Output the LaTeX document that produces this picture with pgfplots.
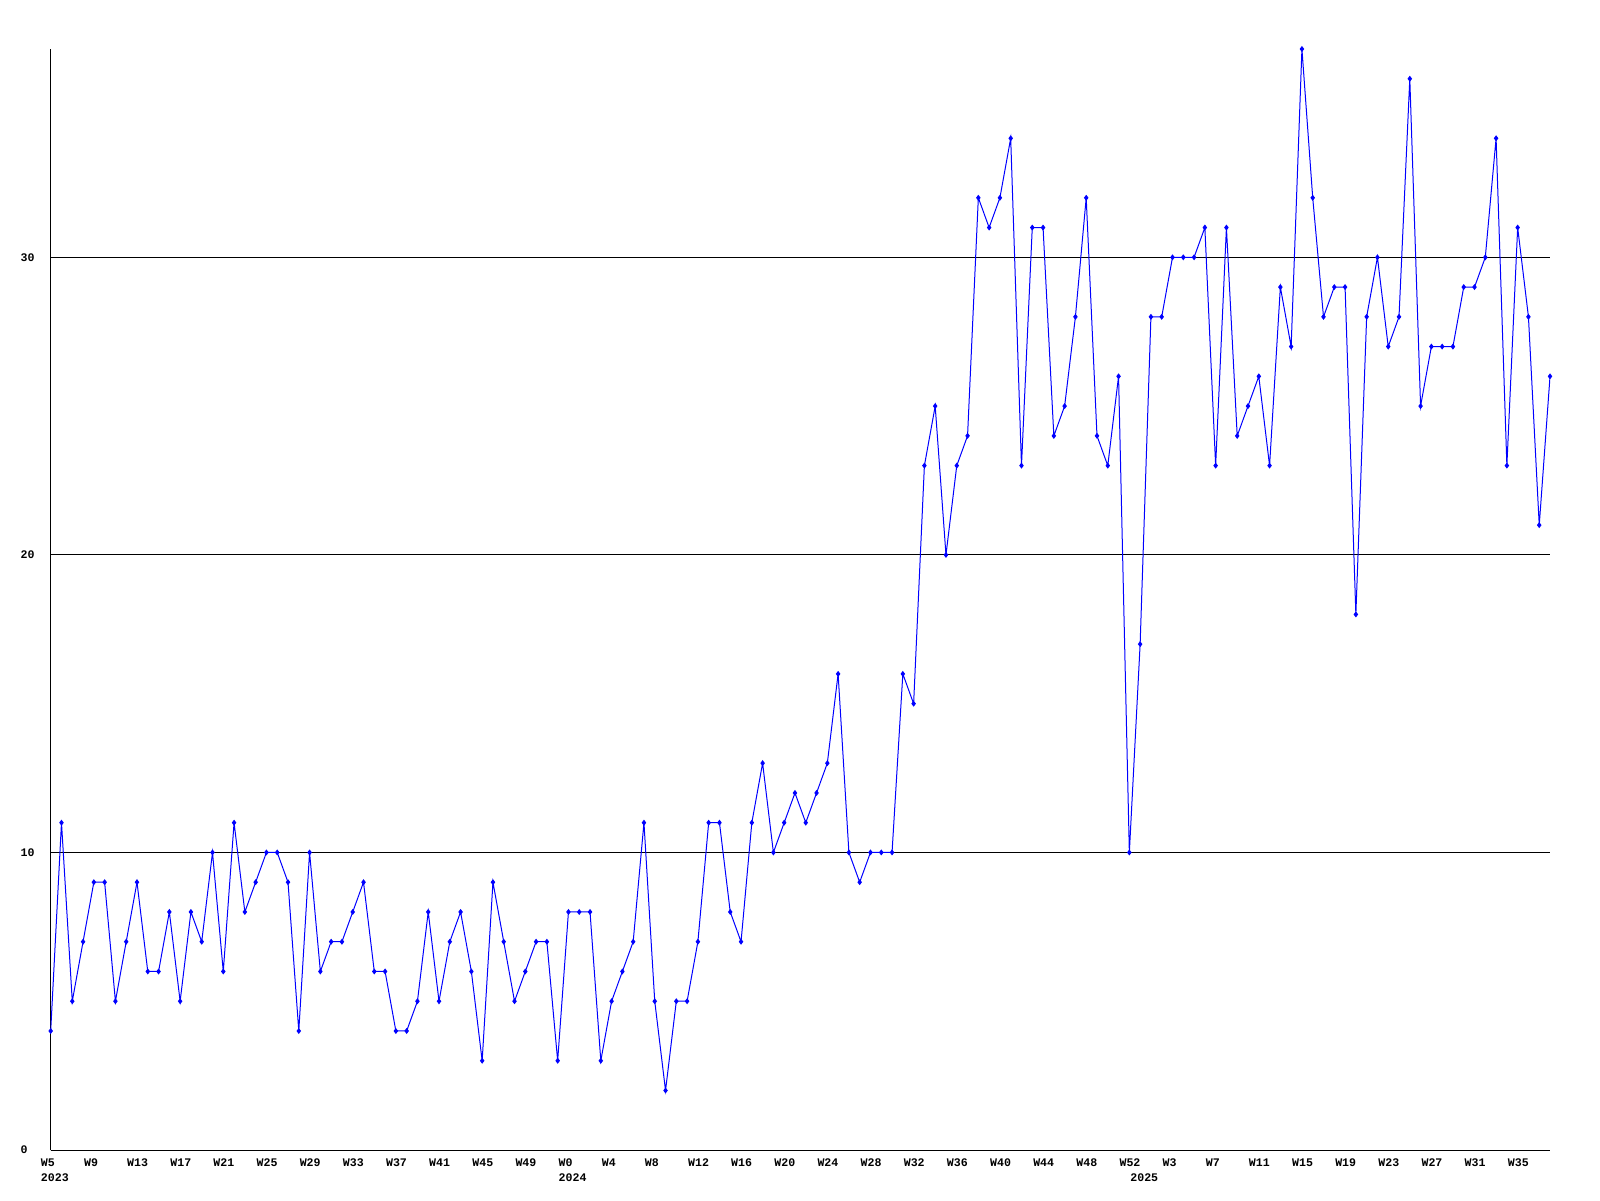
\documentclass[border=0pt]{standalone}
\usepackage{pgfplots}
\pgfplotsset{compat=1.18}
\usepackage{fontspec}
\setmonofont{Liberation Mono}
\begin{document}
\begin{tikzpicture}
\useasboundingbox (0,0) rectangle (160mm,120mm);
\begin{axis}[
  at={(5.07mm,5.0mm)}, anchor=south west,
  scale only axis, width=149.93mm, height=110.1mm,
  xmin=0, xmax=139, ymin=0, ymax=37,
  axis x line=bottom, axis y line=left,
  axis line style={-, black, line width=0.1mm},
  ytick={0,10,20,30}, ymajorgrids, grid style={black, line width=0.1mm},
  xtick={0,4,...,136},
  xticklabels={W5,W9,W13,W17,W21,W25,W29,W33,W37,W41,W45,W49,W0,W4,W8,W12,W16,W20,W24,W28,W32,W36,W40,W44,W48,W52,W3,W7,W11,W15,W19,W23,W27,W31,W35},
  major tick length=0pt,
  /pgf/number format/assume math mode=true,
  tick label style={font=\ttfamily\bfseries\fontsize{3.3}{3.6}\selectfont, text=black},
  xticklabel style={anchor=north west, inner sep=0pt, xshift=-1.05mm, yshift=-0.8mm},
  yticklabel style={anchor=west, inner sep=0pt, xshift=-3.07mm},
  extra x ticks={0,48,101}, extra x tick labels={2023,2024,2025},
  extra x tick style={xticklabel style={yshift=-1.5mm}, grid=none},
]
\addplot[blue, line width=0.1mm, mark=diamond*, mark size=0.22mm, mark options={fill=blue, draw=blue}] coordinates {
(0,4) (1,11) (2,5) (3,7) (4,9) (5,9) (6,5) (7,7) (8,9) (9,6)
(10,6) (11,8) (12,5) (13,8) (14,7) (15,10) (16,6) (17,11) (18,8) (19,9)
(20,10) (21,10) (22,9) (23,4) (24,10) (25,6) (26,7) (27,7) (28,8) (29,9)
(30,6) (31,6) (32,4) (33,4) (34,5) (35,8) (36,5) (37,7) (38,8) (39,6)
(40,3) (41,9) (42,7) (43,5) (44,6) (45,7) (46,7) (47,3) (48,8) (49,8)
(50,8) (51,3) (52,5) (53,6) (54,7) (55,11) (56,5) (57,2) (58,5) (59,5)
(60,7) (61,11) (62,11) (63,8) (64,7) (65,11) (66,13) (67,10) (68,11) (69,12)
(70,11) (71,12) (72,13) (73,16) (74,10) (75,9) (76,10) (77,10) (78,10) (79,16)
(80,15) (81,23) (82,25) (83,20) (84,23) (85,24) (86,32) (87,31) (88,32) (89,34)
(90,23) (91,31) (92,31) (93,24) (94,25) (95,28) (96,32) (97,24) (98,23) (99,26)
(100,10) (101,17) (102,28) (103,28) (104,30) (105,30) (106,30) (107,31) (108,23) (109,31)
(110,24) (111,25) (112,26) (113,23) (114,29) (115,27) (116,37) (117,32) (118,28) (119,29)
(120,29) (121,18) (122,28) (123,30) (124,27) (125,28) (126,36) (127,25) (128,27) (129,27)
(130,27) (131,29) (132,29) (133,30) (134,34) (135,23) (136,31) (137,28) (138,21) (139,26)
};
\end{axis}
\end{tikzpicture}
\end{document}
